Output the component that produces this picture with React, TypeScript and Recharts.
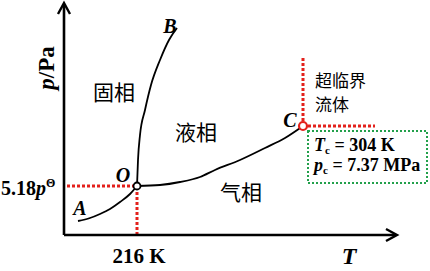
import React from 'react';
import {
  ComposedChart,
  Line,
  XAxis,
  YAxis,
  ReferenceLine,
  ReferenceDot,
  ReferenceArea
} from 'recharts';

// phase boundaries (T, p in drawing units)
const curveOA = [
  { T: 14, p: 14 }, { T: 26, p: 17 }, { T: 36, p: 21 }, { T: 46, p: 26 },
  { T: 56, p: 33 }, { T: 66, p: 41 }, { T: 73, p: 49 }
];
const curveOB = [
  { T: 73, p: 49 }, { T: 74, p: 75 }, { T: 76, p: 100 }, { T: 81, p: 125 },
  { T: 87, p: 150 }, { T: 96, p: 175 }, { T: 105, p: 195 }, { T: 113, p: 207 }
];
const curveOC = [
  { T: 73, p: 49 }, { T: 96, p: 50 }, { T: 116, p: 53 }, { T: 136, p: 58 },
  { T: 151, p: 65 }, { T: 176, p: 75 }, { T: 201, p: 87 }, { T: 221, p: 97 },
  { T: 239, p: 109 }
];
const triplePoint = { T: 73, p: 49 };
const criticalPoint = { T: 239, p: 109 };
const xEnd = 333;
const yEnd = 232;

const RED = '#e3211c';
const GREEN = '#22a04b';
const SERIF = '"Times New Roman", "Liberation Serif", serif';
const CJK = '"Noto Sans CJK SC", sans-serif';

const Arrow = (props: any) => {
  const { x1, y1, x2, y2 } = props;
  const dx = x2 - x1;
  const dy = y2 - y1;
  const len = Math.sqrt(dx * dx + dy * dy) || 1;
  const ux = dx / len;
  const uy = dy / len;
  const back = 11;
  const side = 6;
  const bx = x2 - ux * back;
  const by = y2 - uy * back;
  return (
    <g>
      <line x1={x1} y1={y1} x2={x2 - ux * 1.5} y2={y2 - uy * 1.5} stroke="#000" strokeWidth={2.6} />
      <polyline
        points={`${bx - uy * side},${by + ux * side} ${x2},${y2} ${bx + uy * side},${by - ux * side}`}
        fill="none"
        stroke="#000"
        strokeWidth={2.4}
      />
    </g>
  );
};

export default function App() {
  return (
    <div style={{ position: 'absolute', left: 0, top: 0, width: 430, height: 271, background: '#fff' }}>
      <ComposedChart width={430} height={271} margin={{ top: 3, right: 0, bottom: 36, left: 64 }}>
        <XAxis type="number" dataKey="T" domain={[0, 366]} hide />
        <YAxis type="number" dataKey="p" domain={[0, yEnd]} hide />

        <ReferenceLine segment={[{ x: 3, y: triplePoint.p }, { x: triplePoint.T, y: triplePoint.p }]}
          stroke={RED} strokeWidth={3} strokeDasharray="3 2" />
        <ReferenceLine segment={[{ x: triplePoint.T, y: 0 }, { x: triplePoint.T, y: triplePoint.p }]}
          stroke={RED} strokeWidth={3} strokeDasharray="3 2" />
        <ReferenceLine segment={[{ x: criticalPoint.T, y: criticalPoint.p }, { x: criticalPoint.T, y: 178 }]}
          stroke={RED} strokeWidth={3} strokeDasharray="3 2" />
        <ReferenceLine segment={[{ x: criticalPoint.T, y: criticalPoint.p }, { x: 311, y: criticalPoint.p }]}
          stroke={RED} strokeWidth={3} strokeDasharray="3 2" />

        <ReferenceArea x1={244} x2={363} y1={52} y2={104} fill="none" fillOpacity={0}
          stroke={GREEN} strokeWidth={2} strokeDasharray="2 2" />

        <ReferenceLine segment={[{ x: 0, y: 0 }, { x: xEnd, y: 0 }]} shape={Arrow} />
        <ReferenceLine segment={[{ x: 0, y: 0 }, { x: 0, y: yEnd }]} shape={Arrow} />

        <Line data={curveOA} dataKey="p" type="monotone" stroke="#000" strokeWidth={1.8} dot={false} isAnimationActive={false} />
        <Line data={curveOB} dataKey="p" type="monotone" stroke="#000" strokeWidth={1.8} dot={false} isAnimationActive={false} />
        <Line data={curveOC} dataKey="p" type="monotone" stroke="#000" strokeWidth={1.8} dot={false} isAnimationActive={false} />

        <ReferenceDot x={triplePoint.T} y={triplePoint.p} r={3.5} fill="#fff" stroke="#000" strokeWidth={1.8} />
        <ReferenceDot x={criticalPoint.T} y={criticalPoint.p} r={4} fill="#fff" stroke={RED} strokeWidth={2.2} />

        <g fontFamily={SERIF} fontWeight="bold" fill="#000">
          <text transform="translate(54,68) rotate(-90)" textAnchor="middle" fontSize={23}>
            <tspan fontStyle="italic">p</tspan>/Pa
          </text>
          <text x={1} y={195} fontSize={20}>
            5.18<tspan fontStyle="italic">p</tspan><tspan fontSize={12} dy={-8}>Θ</tspan>
          </text>
          <text x={139} y={263} textAnchor="middle" fontSize={21}>216 K</text>
          <text x={349} y={264} textAnchor="middle" fontSize={24} fontStyle="italic">T</text>
          <text x={123} y={182} textAnchor="middle" fontSize={20} fontStyle="italic">O</text>
          <text x={80} y={215} textAnchor="middle" fontSize={20} fontStyle="italic">A</text>
          <text x={170} y={33} textAnchor="middle" fontSize={20} fontStyle="italic">B</text>
          <text x={290} y={127} textAnchor="middle" fontSize={20} fontStyle="italic">C</text>
          <text x={314} y={151} fontSize={18}>
            <tspan fontStyle="italic">T</tspan><tspan fontSize={11} dy={3}>c</tspan><tspan dy={-3}> = 304 K</tspan>
          </text>
          <text x={314} y={171} fontSize={18}>
            <tspan fontStyle="italic">p</tspan><tspan fontSize={11} dy={3}>c</tspan><tspan dy={-3}> = 7.37 MPa</tspan>
          </text>
        </g>
        <g fontFamily={CJK} fill="#000">
          <text x={114} y={100} textAnchor="middle" fontSize={21}>固相</text>
          <text x={196} y={140} textAnchor="middle" fontSize={21}>液相</text>
          <text x={241} y={200} textAnchor="middle" fontSize={21}>气相</text>
          <text x={315} y={87} fontSize={17}>超临界</text>
          <text x={315} y={111} fontSize={17}>流体</text>
        </g>
      </ComposedChart>
    </div>
  );
}
